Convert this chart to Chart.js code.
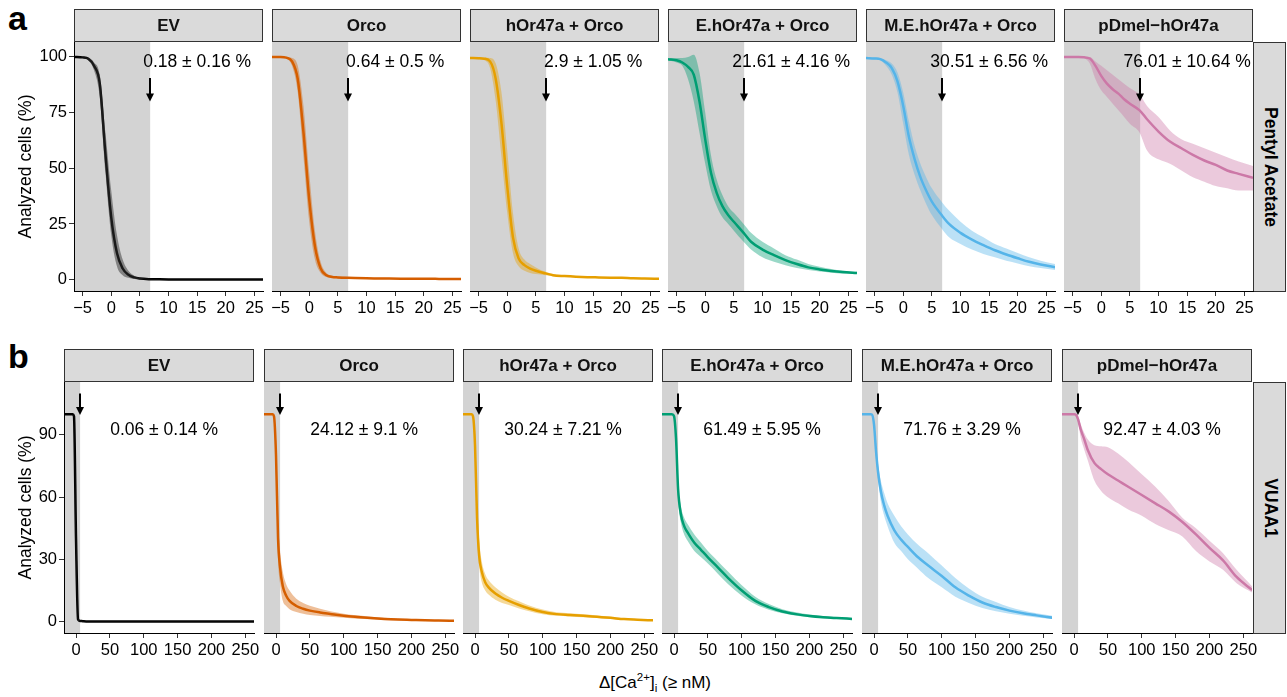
<!DOCTYPE html>
<html>
<head>
<meta charset="utf-8">
<script src="https://cdn.jsdelivr.net/npm/chart.js@4.4.1/dist/chart.umd.min.js"></script>
<style>
  body { margin: 0; background: #fff; width: 1287px; height: 697px; position: relative; overflow: hidden;
         font-family: "Liberation Sans", Arial, Helvetica, sans-serif; color: #000; }
  canvas { position: absolute; }
  .lab { position: absolute; left: 8px; font-weight: bold; font-size: 34px; line-height: 34px; }
  .rstrip { position: absolute; left: 1253px; width: 33px; background: #dadada; border: 1px solid #333; box-sizing: border-box; }
  .rstrip span { position: absolute; left: 50%; top: 50%; transform: translate(-50%, -50%) rotate(90deg);
                 font-weight: bold; font-size: 17.5px; white-space: nowrap; }
  .xtitle { position: absolute; left: 505px; width: 300px; top: 673px; text-align: center; font-size: 17px; line-height: 20px; }
  .xtitle sup, .xtitle sub { font-size: 11.5px; line-height: 0; }
</style>
</head>
<body>
<div class="lab" style="top:1px">a</div>
<div class="lab" style="top:339px">b</div>
<div class="rstrip" style="top:42px;height:250px"><span>Pentyl Acetate</span></div>
<div class="rstrip" style="top:382px;height:252px"><span>VUAA1</span></div>
<div class="xtitle">Δ[Ca<sup>2+</sup>]<sub>i</sub> (≥ nM)</div>

<script>
// panel names and colours
const groups = ['EV', 'Orco', 'hOr47a + Orco', 'E.hOr47a + Orco', 'M.E.hOr47a + Orco', 'pDmel\u2212hOr47a'];
const colors = ['#000000', '#D55E00', '#E69F00', '#009E73', '#56B4E9', '#CC79A7'];
const ribbons = ['#33333380', '#D55E0066', '#E69F0066', '#009E7366', '#56B4E966', '#CC79A766'];

// percentage labels
const pctA = ['0.18 ± 0.16 %', '0.64 ± 0.5 %', '2.9 ± 1.05 %', '21.61 ± 4.16 %', '30.51 ± 6.56 %', '76.01 ± 10.64 %'];
const pctB = ['0.06 ± 0.14 %', '24.12 ± 9.1 %', '30.24 ± 7.21 %', '61.49 ± 5.95 %', '71.76 ± 3.29 %', '92.47 ± 4.03 %'];

// tick labels
const xTicksA = [-5, 0, 5, 10, 15, 20, 25];
const yTicksA = [0, 25, 50, 75, 100];
const xTicksB = [0, 50, 100, 150, 200, 250];
const yTicksB = [0, 30, 60, 90];

// a: Pentyl Acetate
const xGridA = [-6.5, -5, -4, -3, -2, -1, 0, 1, 2, 3, 4, 5, 6.7, 8, 10, 12, 14, 16, 18, 20, 22, 24, 26.5];
const meanA = [
  [100, 99.8, 99.2, 96, 88, 56, 28, 12, 5, 2.2, 1, 0.5, 0.2, 0.15, 0.1, 0.1, 0.1, 0.1, 0.1, 0.1, 0.1, 0.1, 0.1],
  [100, 100, 99.7, 98, 90, 66, 36, 15, 5, 2, 1.2, 1, 0.8, 0.7, 0.6, 0.55, 0.5, 0.45, 0.4, 0.4, 0.35, 0.3, 0.3],
  [99.5, 99.4, 99.2, 98, 90, 70, 42, 19, 9.5, 6.5, 5, 4, 2.8, 2, 1.6, 1.3, 1.1, 1, 0.9, 0.8, 0.6, 0.5, 0.4],
  [99, 98.5, 97.5, 95.5, 92, 80, 63, 48, 39, 33, 29, 26, 21, 17, 13.5, 11, 8.8, 7, 5.5, 4.6, 3.9, 3.4, 3],
  [99.5, 99.3, 99, 97.5, 95, 89, 78, 64, 54, 46, 40, 35, 29, 25, 21, 18, 15.5, 13.2, 11.3, 9.6, 8, 6.8, 5.6],
  [100, 100, 100, 99.8, 99.3, 96, 91.5, 88, 85.5, 83.5, 81, 79, 76, 72, 66.5, 62, 59, 56, 53.5, 51.5, 49, 47.5, 45.7]
];
const loA = [
  [100, 99.6, 98.5, 94, 82, 48, 20, 6, 2, 0.8, 0.3, 0.2, 0.1, 0.05, 0.05, 0.05, 0.05, 0.05, 0.05, 0.05, 0.05, 0.05, 0.05],
  [100, 100, 99.3, 96, 84, 55, 26, 9, 3, 1.2, 0.7, 0.6, 0.45, 0.4, 0.35, 0.3, 0.3, 0.25, 0.2, 0.2, 0.2, 0.15, 0.15],
  [99.2, 99, 98.5, 95, 80, 55, 30, 12, 6, 4, 3, 2.5, 2, 1.5, 1.2, 1, 0.8, 0.7, 0.6, 0.5, 0.4, 0.3, 0.2],
  [98.5, 97.5, 96, 90, 80, 66, 52, 40, 33, 28, 25, 22, 17, 13.5, 10, 8, 6.5, 5.2, 4.3, 3.6, 3.1, 2.7, 2.5],
  [99.3, 99, 98.5, 96, 92, 84, 70, 56, 47, 40, 34, 29, 23, 19, 16, 13.5, 11.5, 10, 8.5, 7.3, 6, 5.2, 4.3],
  [100, 100, 100, 99.5, 97, 90, 85, 82, 79, 76, 73, 70, 66, 58, 54, 52, 49, 46, 44, 42, 41, 40, 40]
];
const hiA = [
  [100, 99.9, 99.6, 97.5, 92, 66, 40, 20, 9, 4, 1.8, 0.9, 0.4, 0.3, 0.2, 0.2, 0.2, 0.2, 0.2, 0.2, 0.2, 0.2, 0.2],
  [100, 100, 100, 99.5, 96, 78, 48, 22, 8, 3, 1.8, 1.5, 1.2, 1, 0.9, 0.8, 0.7, 0.65, 0.6, 0.55, 0.5, 0.45, 0.4],
  [99.8, 99.7, 99.6, 99.5, 97, 84, 58, 30, 14, 9, 7, 5.5, 3.5, 2.5, 2, 1.6, 1.4, 1.2, 1.1, 1, 0.8, 0.7, 0.6],
  [99.5, 99.5, 99.5, 100, 101, 93, 75, 56, 45, 38, 33, 30, 25, 21, 17, 14, 11, 9, 7, 5.8, 4.8, 4, 3.5],
  [99.7, 99.6, 99.4, 98.5, 97, 93, 84, 71, 60, 52, 46, 41, 35, 31, 26, 22, 19, 16, 14, 12, 10, 8.5, 7],
  [100, 100, 100, 100, 100, 98, 96, 94, 92, 90, 88, 86, 83, 78, 73, 67, 63, 61, 59, 57, 55, 53, 51]
];

// b: VUAA1
const xGridB = [-18, -5, -3, 0, 3, 6, 10, 15, 20, 30, 40, 50, 65, 80, 100, 120, 140, 160, 180, 200, 220, 240, 263];
const meanB = [
  [100, 100, 99, 40, 1, 0.3, 0.2, 0.1, 0.1, 0.1, 0.1, 0.1, 0.1, 0.1, 0.1, 0.1, 0.1, 0.1, 0.1, 0.1, 0.1, 0.1, 0.1],
  [100, 100, 99, 80, 40, 26, 17, 12.5, 10, 7.5, 6.2, 5.3, 4.4, 3.7, 2.8, 2.2, 1.7, 1.3, 1, 0.8, 0.6, 0.5, 0.4],
  [100, 100, 99, 85, 50, 32, 24, 19, 16.5, 13.5, 11.5, 10, 8, 6.3, 4.6, 3.6, 3.2, 2.8, 2.3, 1.8, 1.2, 0.9, 0.6],
  [100, 100, 100, 99, 88, 64, 52, 46, 43, 38, 34.5, 31, 26, 21, 15, 10, 7, 4.9, 3.6, 2.7, 2.1, 1.7, 1.3],
  [100, 100, 99.8, 95, 82, 72, 63, 56, 51, 44, 39.5, 36, 31, 27, 22, 16.5, 12.5, 9.2, 7, 5.3, 4, 3, 1.9],
  [100, 100, 100, 100, 99.6, 97.5, 92.5, 88, 83, 76.5, 73.5, 71, 68, 65, 61, 57, 53, 48, 42, 35.5, 29.5, 21.5, 15.2]
];
const loB = [
  [100, 100, 98.5, 32, 0.3, 0.1, 0.05, 0, 0, 0, 0, 0, 0, 0, 0, 0, 0, 0, 0, 0, 0, 0, 0],
  [100, 100, 98, 70, 30, 18, 10, 7.5, 6, 4.6, 3.8, 3.2, 2.7, 2.3, 1.8, 1.4, 1.1, 0.8, 0.6, 0.5, 0.4, 0.3, 0.2],
  [100, 100, 98.5, 78, 42, 27, 19, 15, 13, 10.5, 9, 8, 6.3, 5, 3.5, 2.8, 2.5, 2.1, 1.7, 1.3, 0.9, 0.6, 0.4],
  [100, 100, 100, 98, 84, 59, 48, 42, 39, 34, 31, 28, 23, 18, 12.5, 8.3, 5.7, 4, 2.8, 2.1, 1.6, 1.2, 0.9],
  [100, 100, 99.5, 92, 78, 68, 58, 51, 46, 38, 34, 30, 25.5, 21, 16.5, 12, 9, 6.5, 5, 3.8, 2.8, 2, 1.2],
  [100, 100, 100, 100, 99, 96, 88.5, 83, 78, 68, 63, 60, 57, 54, 51, 47, 44, 41, 34, 29, 25, 18.5, 14]
];
const hiB = [
  [100, 100, 99.5, 48, 2, 0.5, 0.3, 0.2, 0.2, 0.2, 0.2, 0.2, 0.2, 0.2, 0.2, 0.2, 0.2, 0.2, 0.2, 0.2, 0.2, 0.2, 0.2],
  [100, 100, 99.5, 88, 50, 34, 24, 18, 15, 11, 9, 7.6, 6.2, 5, 3.8, 3, 2.3, 1.8, 1.4, 1.1, 0.9, 0.7, 0.6],
  [100, 100, 99.5, 92, 58, 40, 29, 23, 20, 16.5, 14, 12, 9.8, 7.8, 5.8, 4.5, 4, 3.5, 2.9, 2.3, 1.6, 1.2, 0.9],
  [100, 100, 100, 100, 91, 68, 56, 50, 47, 42, 38, 34, 29, 24, 17.5, 12, 8.5, 6, 4.5, 3.4, 2.7, 2.2, 1.8],
  [100, 100, 100, 97, 86, 76, 68, 62, 57, 51, 46, 42, 37, 33, 27, 21, 16, 12, 9.5, 7, 5.3, 4, 2.8],
  [100, 100, 100, 100, 100, 99, 95, 91, 88, 85, 84.5, 84, 81, 77, 71, 65, 58, 50, 45, 39, 33, 25, 17]
];

// layout of the two rows
const FONT = '"Liberation Sans", Arial, Helvetica, sans-serif';
Chart.defaults.font.family = FONT;

const rowA = {
  x: xGridA, mean: meanA, lo: loA, hi: hiA, pct: pctA, xTicks: xTicksA, yTicks: yTicksA,
  xMin: -6.5, xMax: 26.5, yMin: -5.1, yMax: 106.7,
  threshold: 6.8, arrowTop: 90.5, arrowTip: 80, textX: 15, textY: 97.7,
  lefts: [74, 272, 470, 668, 866, 1064], plotW: 189, stripTop: 9, plotTop: 42, plotH: 249
};
const rowB = {
  x: xGridB, mean: meanB, lo: loB, hi: hiB, pct: pctB, xTicks: xTicksB, yTicks: yTicksB,
  xMin: -17.75, xMax: 262.75, yMin: -5.5, yMax: 115.5,
  threshold: 6, arrowTop: 110, arrowTip: 99.6, textX: 130, textY: 92.4,
  lefts: [64, 264, 463, 662, 862, 1062], plotW: 190, stripTop: 349, plotTop: 382, plotH: 251
};

function makePanel(row, i) {
  const first = i === 0;
  const padL = first ? 12 : 12, padR = 12, bottomH = 29;
  const stripH = row.plotTop - row.stripTop;
  const canvasLeft = first ? 0 : row.lefts[i] - padL;
  const width = row.lefts[i] - canvasLeft + row.plotW + padR;
  const height = stripH + row.plotH + bottomH;
  const yW = first ? row.lefts[0] - padL : 0;

  const cv = document.createElement('canvas');
  cv.width = width; cv.height = height;
  cv.style.left = canvasLeft + 'px';
  cv.style.top = row.stripTop + 'px';
  document.body.appendChild(cv);

  const pts = arr => row.x.map((x, k) => ({ x: x, y: arr[k] }));
  const clear = 'rgba(0,0,0,0)';

  const decor = {
    id: 'decor',
    beforeDraw(chart) {
      // grey zone below the threshold
      const { ctx, chartArea: a, scales } = chart;
      const xs = scales.x.getPixelForValue(row.threshold);
      ctx.save();
      ctx.fillStyle = '#d3d3d3';
      ctx.fillRect(a.left, a.top, xs - a.left, a.bottom - a.top);
      ctx.restore();
    },
    afterDatasetsDraw(chart) {
      const { ctx, scales } = chart;
      const ax = Math.round(scales.x.getPixelForValue(row.threshold));
      const y1 = scales.y.getPixelForValue(row.arrowTop);
      const y2 = scales.y.getPixelForValue(row.arrowTip);
      ctx.save();
      ctx.strokeStyle = '#000'; ctx.fillStyle = '#000'; ctx.lineWidth = 2;
      ctx.beginPath(); ctx.moveTo(ax, y1); ctx.lineTo(ax, y2 - 6); ctx.stroke();
      ctx.beginPath(); ctx.moveTo(ax - 4, y2 - 8); ctx.lineTo(ax + 4, y2 - 8); ctx.lineTo(ax, y2); ctx.closePath(); ctx.fill();
      ctx.font = '17.5px ' + FONT;
      ctx.textAlign = 'center'; ctx.textBaseline = 'middle';
      ctx.fillText(row.pct[i], scales.x.getPixelForValue(row.textX), scales.y.getPixelForValue(row.textY));
      ctx.restore();
    },
    afterDraw(chart) {
      // facet strip
      const { ctx, chartArea: a } = chart;
      ctx.save();
      ctx.fillStyle = '#dadada';
      ctx.fillRect(a.left, 0, a.right - a.left, stripH);
      ctx.strokeStyle = '#333'; ctx.lineWidth = 1;
      ctx.strokeRect(a.left + 0.5, 0.5, a.right - a.left - 1, stripH - 1);
      ctx.fillStyle = '#111';
      ctx.font = 'bold 17px ' + FONT;
      ctx.textAlign = 'center'; ctx.textBaseline = 'middle';
      ctx.fillText(groups[i], (a.left + a.right) / 2, stripH / 2 + 1);
      ctx.restore();
    }
  };

  const tickFont = { size: 16.5, family: FONT };
  new Chart(cv, {
    type: 'line',
    data: {
      datasets: [
        { data: pts(row.hi[i]), fill: '+1', backgroundColor: ribbons[i], borderColor: clear, borderWidth: 0,
          pointRadius: 0, cubicInterpolationMode: 'monotone' },
        { data: pts(row.lo[i]), fill: false, borderColor: clear, borderWidth: 0,
          pointRadius: 0, cubicInterpolationMode: 'monotone' },
        { data: pts(row.mean[i]), fill: false, borderColor: colors[i], borderWidth: 2.5,
          pointRadius: 0, cubicInterpolationMode: 'monotone' }
      ]
    },
    options: {
      responsive: false,
      animation: false,
      events: [],
      layout: { padding: { left: padL, right: padR, top: stripH, bottom: 0 } },
      plugins: { legend: { display: false }, tooltip: { enabled: false } },
      scales: {
        x: {
          type: 'linear', min: row.xMin, max: row.xMax,
          afterBuildTicks: s => { s.ticks = row.xTicks.map(v => ({ value: v })); },
          afterFit: s => { s.height = bottomH; },
          grid: { drawOnChartArea: false, drawTicks: true, tickLength: 5, tickColor: '#333' },
          border: { display: true, color: '#000', width: 1 },
          ticks: { color: '#000', font: tickFont, padding: 3, maxRotation: 0, autoSkip: false,
                   callback: v => String(v).replace('-', '\u2212') }
        },
        y: {
          display: first, min: row.yMin, max: row.yMax,
          afterBuildTicks: s => { s.ticks = row.yTicks.map(v => ({ value: v })); },
          afterFit: s => { s.width = yW; },
          grid: { drawOnChartArea: false, drawTicks: true, tickLength: 5, tickColor: '#333' },
          border: { display: true, color: '#000', width: 1 },
          ticks: { color: '#000', font: tickFont, padding: 2 },
          title: { display: true, text: 'Analyzed cells (%)', color: '#000', font: { size: 17.5, family: FONT },
                   padding: { top: 4, bottom: 0 } }
        }
      }
    },
    plugins: [decor]
  });
}

for (let i = 0; i < 6; i++) {
  makePanel(rowA, i);
  makePanel(rowB, i);
}
</script>
</body>
</html>
